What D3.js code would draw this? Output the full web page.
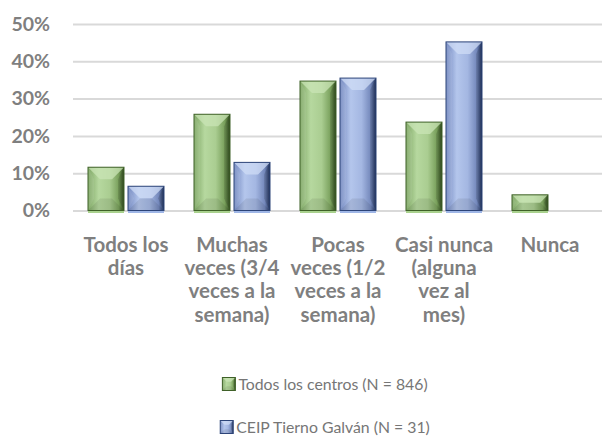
<!DOCTYPE html>
<html>
<head>
<meta charset="utf-8">
<script src="https://cdn.jsdelivr.net/npm/d3@7"></script>
<style>
  html, body { margin: 0; padding: 0; background: #ffffff; }
  svg { display: block; }
  text { font-family: Lato, "Open Sans", sans-serif; }
</style>
</head>
<body>
<div id="chart"></div>
<script>
// Frequency categories (label lines as they wrap under the axis)
const categories = [
  ["Todos los", "días"],
  ["Muchas", "veces (3/4", "veces a la", "semana)"],
  ["Pocas", "veces (1/2", "veces a la", "semana)"],
  ["Casi nunca", "(alguna", "vez al", "mes)"],
  ["Nunca"]
];
const seriesNames = ["Todos los centros (N = 846)", "CEIP Tierno Galván (N = 31)"];
const todosLosCentros = [0.116, 0.258, 0.347, 0.237, 0.042];
const ceipTiernoGalvan = [0.065, 0.129, 0.355, 0.452, 0];
const yTicks = [0, 0.1, 0.2, 0.3, 0.4, 0.5];

const W = 602, H = 444;
const margin = { left: 73, right: 0, top: 24, bottom: 233 };

const svg = d3.select("#chart").append("svg")
  .attr("width", W).attr("height", H);

const catKeys = categories.map(c => c.join(" "));
const x0 = d3.scaleBand().domain(catKeys)
  .range([margin.left, 603]).paddingInner(0.283).paddingOuter(0.1415);
const x1 = d3.scaleBand().domain([0, 1])
  .range([0, x0.bandwidth()]).paddingInner(0.1);
const y = d3.scaleLinear().domain([0, 0.5]).range([210.5, margin.top]);

// Bevelled fills
const defs = svg.append("defs");
const palettes = [
  { id: "g", stops: ["#7fa765", "#b6d89f", "#aacd91", "#79a05c", "#33501f"], edge: "#3f6128", top: "#c9e4b6" },
  { id: "b", stops: ["#7489c0", "#b4c6ec", "#a4b7e2", "#7488bb", "#223560"], edge: "#2c4478", top: "#cfdcf6" }
];
palettes.forEach(p => {
  const g = defs.append("linearGradient").attr("id", "grad-" + p.id)
    .attr("x1", "0%").attr("x2", "100%").attr("y1", "0%").attr("y2", "0%");
  [0, 0.3, 0.6, 0.85, 1].forEach((o, i) =>
    g.append("stop").attr("offset", o).attr("stop-color", p.stops[i]));
});

// Gridlines and y-axis labels
const yAxis = d3.axisLeft(y).tickValues(yTicks).tickFormat(d3.format(".0%"))
  .tickSize(-(W - margin.left)).tickPadding(23);
const ga = svg.append("g").attr("transform", `translate(${margin.left},0)`).call(yAxis);
ga.select(".domain").remove();
ga.selectAll(".tick line").attr("stroke", "#d9d9d9").attr("stroke-width", 2);
ga.selectAll(".tick text")
  .attr("fill", "#7f7f7f").attr("font-size", 19.5).attr("font-weight", "bold")
  .attr("font-family", "Lato, 'Open Sans', sans-serif");

function bevelBar(g, x, yTop, w, h, p) {
  const gg = g.append("g").attr("transform", `translate(${x},${yTop})`);
  gg.append("rect").attr("width", w).attr("height", h)
    .attr("fill", `url(#grad-${p.id})`);
  const d = Math.min(12, w / 3, h / 2);
  // top facet
  gg.append("path").attr("d", `M0,0L${w},0L${w - d},${d}L${d},${d}Z`)
    .attr("fill", p.top).attr("opacity", 0.75);
  // bottom facet
  gg.append("path").attr("d", `M0,${h}L${w},${h}L${w - d},${h - d}L${d},${h - d}Z`)
    .attr("fill", "#000").attr("opacity", 0.08);
  // side facets
  gg.append("path").attr("d", `M0,0L${d / 2},${d}L${d / 2},${h - d}L0,${h}Z`)
    .attr("fill", "#fff").attr("opacity", 0.08);
  gg.append("path").attr("d", `M${w},0L${w - d / 2},${d}L${w - d / 2},${h - d}L${w},${h}Z`)
    .attr("fill", "#000").attr("opacity", 0.12);
  gg.append("rect").attr("width", w).attr("height", h)
    .attr("fill", "none").attr("stroke", p.edge).attr("stroke-width", 1);
}

// Bars
const seriesValues = [todosLosCentros, ceipTiernoGalvan];
const bars = svg.append("g");
catKeys.forEach((k, ci) => {
  seriesValues.forEach((vals, si) => {
    const v = vals[ci];
    if (!v) return;
    const bx = x0(k) + x1(si);
    bevelBar(bars, bx, y(v), x1.bandwidth(), y(0) - y(v), palettes[si]);
    bars.append("rect").attr("x", bx).attr("y", y(0) + 0.5)
      .attr("width", x1.bandwidth()).attr("height", 2)
      .attr("fill", si === 0 ? "#a9d18e" : "#9fb6e6");
  });
});

// Category labels, one text per wrapped line
const labels = svg.append("g");
categories.forEach((lines, ci) => {
  const cx = x0(catKeys[ci]) + x0.bandwidth() / 2;
  lines.forEach((ln, li) => {
    labels.append("text").attr("text-anchor", "middle")
      .attr("fill", "#7f7f7f").attr("font-size", 20.5).attr("font-weight", "bold")
      .attr("x", cx).attr("y", 251.5 + li * 23.4).text(ln);
  });
});

// Legend
const legendY = [384, 427];
seriesNames.forEach((name, si) => {
  const lg = svg.append("g");
  const txt = lg.append("text").attr("fill", "#767676").attr("font-size", 15.8)
    .attr("y", legendY[si] + 6).text(name);
  const tw = txt.node().getComputedTextLength();
  const ms = 13, gap = 3;
  const total = ms + gap + tw;
  const left = 325 - total / 2;
  txt.attr("x", left + ms + gap);
  bevelBar(lg, left, legendY[si] - ms / 2, ms, ms, palettes[si]);
});
</script>
</body>
</html>
